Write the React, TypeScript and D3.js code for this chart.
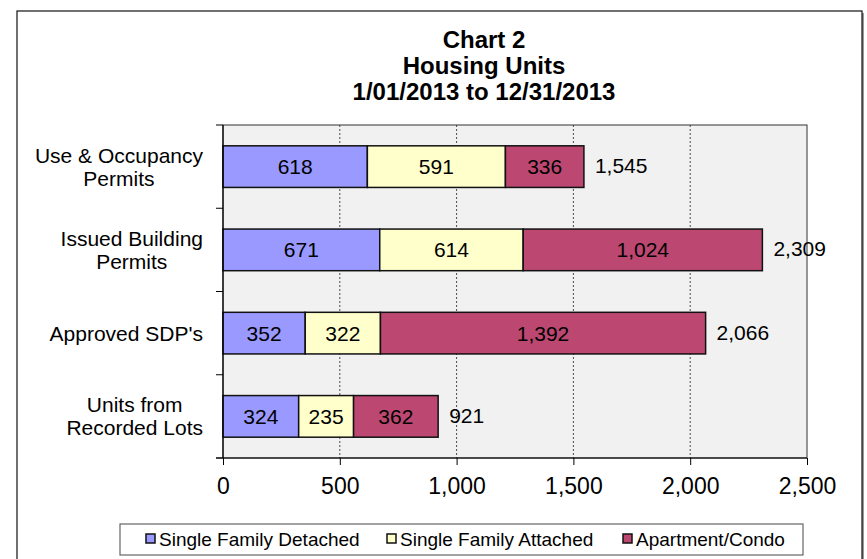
import React, { useEffect, useRef } from 'react';
import * as d3 from 'd3';

const categories = [
  ['Use & Occupancy', 'Permits'],
  ['Issued Building', 'Permits'],
  ["Approved SDP's"],
  ['Units from', 'Recorded Lots'],
];
const seriesNames = ['Single Family Detached', 'Single Family Attached', 'Apartment/Condo'];
const detached = [618, 671, 352, 324];
const attached = [591, 614, 322, 235];
const condo = [336, 1024, 1392, 362];
const totals = [1545, 2309, 2066, 921];
const xTicks = [0, 500, 1000, 1500, 2000, 2500];
const titleLines = ['Chart 2', 'Housing Units', '1/01/2013 to 12/31/2013'];
const colors = ['#9999ff', '#ffffcc', '#bc4872'];

const App = () => {
  const svgRef = useRef<SVGSVGElement>(null);

  useEffect(() => {
    const svg = d3.select(svgRef.current);
    svg.selectAll('*').remove();
    const font = 'Arial, "Liberation Sans", sans-serif';

    // outer chart frame
    svg.append('line').attr('x1', 863).attr('x2', 863).attr('y1', 13).attr('y2', 559)
      .attr('stroke', '#999').attr('stroke-width', 2);
    svg.append('rect').attr('x', 17).attr('y', 11).attr('width', 845).attr('height', 600)
      .attr('fill', 'white').attr('stroke', '#111').attr('stroke-width', 1.2);

    // title
    svg.append('g').selectAll('text').data(titleLines).join('text')
      .attr('x', 484).attr('y', (d, i) => 48 + i * 26)
      .attr('text-anchor', 'middle').attr('font-family', font)
      .attr('font-weight', 'bold').attr('font-size', 24).attr('fill', '#000')
      .text(d => d);

    const left = 223, right = 807, top = 125, bottom = 458;
    const x = d3.scaleLinear().domain([0, 2500]).range([left, right]);
    const y = d3.scaleBand<number>().domain(d3.range(categories.length)).range([top, bottom]).paddingInner(0.5).paddingOuter(0.25);
    const yb = d3.scaleLinear().domain([0, categories.length]).range([top, bottom]);

    svg.append('rect').attr('x', left).attr('y', top).attr('width', right - left).attr('height', bottom - top)
      .attr('fill', '#f1f1f1').attr('stroke', '#333').attr('stroke-width', 1);

    // grid
    svg.append('g').selectAll('line').data(xTicks.slice(1, -1)).join('line')
      .attr('x1', d => x(d)).attr('x2', d => x(d)).attr('y1', top).attr('y2', bottom)
      .attr('stroke', '#222').attr('stroke-width', 0.8).attr('stroke-dasharray', '2,2');

    // stacked bars
    const rows = categories.map((c, i) => ({ i, detached: detached[i], attached: attached[i], condo: condo[i] }));
    const stacked = d3.stack<any>().keys(['detached', 'attached', 'condo'])(rows);
    stacked.forEach((layer, k) => {
      const g = svg.append('g');
      g.selectAll('rect').data(layer).join('rect')
        .attr('x', d => x(d[0])).attr('width', d => x(d[1]) - x(d[0]))
        .attr('y', (d, i) => y(i)!).attr('height', y.bandwidth())
        .attr('fill', colors[k]).attr('stroke', '#111').attr('stroke-width', 1.5);
      g.selectAll('text').data(layer).join('text')
        .attr('x', d => (x(d[0]) + x(d[1])) / 2).attr('y', (d, i) => y(i)! + y.bandwidth() / 2)
        .attr('dy', '0.36em').attr('text-anchor', 'middle')
        .attr('font-family', font).attr('font-size', 21).attr('fill', '#000')
        .text(d => d3.format(',')(d[1] - d[0]));
    });

    // totals
    svg.append('g').selectAll('text').data(totals).join('text')
      .attr('x', d => x(d) + 11).attr('y', (d, i) => y(i)! + y.bandwidth() / 2 - 1)
      .attr('dy', '0.36em').attr('font-family', font).attr('font-size', 21).attr('fill', '#000')
      .text(d => d3.format(',')(d));

    // x axis
    const xAxis = svg.append('g').attr('transform', `translate(0,${bottom})`)
      .call(d3.axisBottom(x).tickValues(xTicks).tickSize(7).tickPadding(13).tickFormat(d3.format(',') as any));
    xAxis.select('.domain').attr('stroke', '#000').attr('stroke-width', 1.2).attr('d', `M${left - 7},0H${right}`);
    xAxis.selectAll('.tick line').attr('stroke', '#000');
    xAxis.selectAll('text').attr('font-family', font).attr('font-size', 23).attr('fill', '#000');

    // y axis
    svg.append('line').attr('x1', left).attr('x2', left).attr('y1', top).attr('y2', bottom)
      .attr('stroke', '#000').attr('stroke-width', 1.2);
    svg.append('g').selectAll('line').data(d3.range(categories.length + 1)).join('line')
      .attr('x1', left - 7).attr('x2', left).attr('y1', d => yb(d)).attr('y2', d => yb(d))
      .attr('stroke', '#000').attr('stroke-width', 1);

    // category labels
    categories.forEach((lines, i) => {
      const cy = y(i)! + y.bandwidth() / 2;
      const g = svg.append('g');
      const texts = g.selectAll('text').data(lines).join('text')
        .attr('y', (d, j) => cy + (j - (lines.length - 1) / 2) * 23)
        .attr('dy', '0.36em').attr('text-anchor', 'middle')
        .attr('font-family', font).attr('font-size', 21).attr('fill', '#000')
        .text(d => d);
      let maxW = 0;
      texts.each(function () { maxW = Math.max(maxW, (this as SVGTextElement).getComputedTextLength()); });
      texts.attr('x', 203 - maxW / 2);
    });

    // legend
    const lg = svg.append('g');
    lg.append('rect').attr('x', 120).attr('y', 524).attr('width', 683).attr('height', 31)
      .attr('fill', 'white').attr('stroke', '#666').attr('stroke-width', 1.2);
    const legendX = [146, 387, 623];
    seriesNames.forEach((name, k) => {
      lg.append('rect').attr('x', legendX[k]).attr('y', 534).attr('width', 9).attr('height', 9)
        .attr('fill', colors[k]).attr('stroke', '#111').attr('stroke-width', 1.5);
      lg.append('text').attr('x', legendX[k] + 13).attr('y', 539).attr('dy', '0.36em')
        .attr('font-family', font).attr('font-size', 19).attr('fill', '#000').text(name);
    });
  }, []);

  return (
    <svg ref={svgRef} width={867} height={559}
      style={{ position: 'absolute', left: 0, top: 0, background: 'white' }} />
  );
};

export default App;
